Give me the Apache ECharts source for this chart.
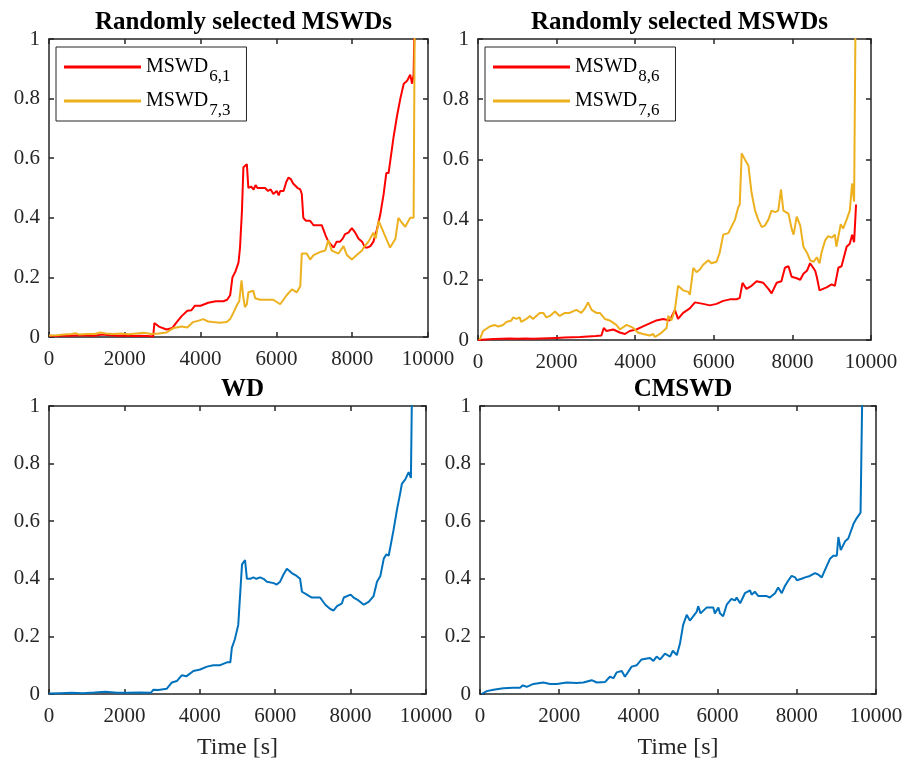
<!DOCTYPE html>
<html>
<head>
<meta charset="utf-8">
<script src="https://cdn.jsdelivr.net/npm/echarts@6/dist/echarts.min.js"></script>
<style>
  html, body { margin: 0; padding: 0; background: #fff; }
  #chart { width: 907px; height: 763px; }
</style>
</head>
<body>
<div id="chart"></div>
<script>
// Time [s] / normalised distance pairs for each curve
const mswd61 = [[0,0.004],[200,0.003],[400,0.005],[600,0.004],[800,0.006],[1000,0.005],[1200,0.004],[1400,0.008],[1600,0.006],[1800,0.004],[2000,0.005],[2200,0.003],[2400,0.004],[2600,0.003],[2750,0.002],[2780,0.047],[2900,0.035],[3100,0.025],[3250,0.030],[3370,0.050],[3500,0.070],[3650,0.088],[3760,0.090],[3850,0.105],[4000,0.105],[4200,0.115],[4400,0.12],[4600,0.12],[4700,0.125],[4780,0.14],[4840,0.20],[4920,0.22],[5000,0.25],[5040,0.30],[5090,0.42],[5130,0.57],[5220,0.58],[5260,0.50],[5330,0.505],[5400,0.495],[5450,0.51],[5500,0.50],[5600,0.50],[5700,0.50],[5780,0.49],[5850,0.495],[5920,0.48],[6010,0.49],[6060,0.475],[6100,0.49],[6190,0.49],[6260,0.52],[6320,0.535],[6380,0.53],[6440,0.515],[6490,0.51],[6560,0.50],[6630,0.495],[6670,0.48],[6710,0.40],[6780,0.39],[6890,0.39],[6980,0.375],[7100,0.375],[7200,0.375],[7240,0.36],[7300,0.34],[7370,0.32],[7440,0.31],[7510,0.30],[7560,0.30],[7590,0.32],[7640,0.315],[7680,0.32],[7750,0.33],[7810,0.345],[7900,0.35],[7990,0.365],[8080,0.35],[8170,0.33],[8260,0.32],[8340,0.30],[8400,0.30],[8480,0.305],[8560,0.32],[8650,0.36],[8740,0.41],[8830,0.48],[8900,0.55],[8960,0.55],[9000,0.55],[9090,0.67],[9180,0.74],[9270,0.80],[9360,0.85],[9400,0.85],[9450,0.86],[9490,0.87],[9530,0.88],[9580,0.85],[9620,0.88],[9680,1.3]];

const mswd73 = [[0,0.005],[200,0.006],[400,0.008],[600,0.01],[700,0.013],[800,0.008],[1000,0.01],[1200,0.01],[1350,0.015],[1500,0.012],[1700,0.01],[1900,0.012],[2100,0.009],[2300,0.012],[2500,0.014],[2700,0.01],[2900,0.012],[3100,0.015],[3280,0.03],[3400,0.033],[3500,0.035],[3650,0.032],[3800,0.05],[3950,0.055],[4070,0.06],[4200,0.052],[4330,0.05],[4500,0.048],[4690,0.05],[4780,0.06],[4860,0.08],[4970,0.11],[5020,0.12],[5080,0.19],[5130,0.13],[5170,0.10],[5220,0.11],[5260,0.15],[5390,0.155],[5440,0.13],[5570,0.125],[5750,0.125],[5920,0.125],[6100,0.11],[6270,0.14],[6410,0.16],[6540,0.15],[6630,0.17],[6670,0.28],[6800,0.28],[6890,0.26],[6980,0.275],[7150,0.285],[7290,0.29],[7370,0.325],[7460,0.29],[7640,0.28],[7770,0.305],[7860,0.275],[7990,0.26],[8120,0.275],[8260,0.29],[8300,0.30],[8430,0.32],[8560,0.35],[8620,0.33],[8700,0.39],[8830,0.35],[9000,0.30],[9140,0.33],[9220,0.40],[9300,0.385],[9400,0.37],[9530,0.40],[9620,0.40],[9660,1.3]];

const mswd86 = [[0,0.0],[200,0.002],[400,0.003],[600,0.004],[800,0.005],[1000,0.004],[1200,0.005],[1400,0.004],[1600,0.005],[1800,0.006],[2000,0.007],[2200,0.008],[2400,0.009],[2600,0.01],[2800,0.012],[3000,0.013],[3140,0.015],[3200,0.04],[3270,0.03],[3440,0.035],[3610,0.025],[3740,0.02],[3860,0.03],[4030,0.035],[4200,0.045],[4370,0.055],[4540,0.065],[4710,0.07],[4880,0.065],[5010,0.10],[5090,0.07],[5220,0.09],[5390,0.105],[5520,0.125],[5730,0.12],[5900,0.115],[6070,0.12],[6240,0.13],[6410,0.135],[6580,0.135],[6660,0.14],[6730,0.19],[6830,0.17],[6960,0.18],[7090,0.195],[7260,0.19],[7390,0.17],[7470,0.155],[7600,0.19],[7720,0.195],[7810,0.24],[7900,0.245],[7980,0.21],[8110,0.205],[8200,0.20],[8280,0.22],[8370,0.23],[8450,0.255],[8580,0.23],[8620,0.21],[8690,0.165],[8740,0.16],[8870,0.175],[9000,0.185],[9080,0.18],[9170,0.24],[9250,0.245],[9380,0.31],[9460,0.32],[9520,0.35],[9570,0.325],[9620,0.45]];

const mswd76 = [[40,0.0],[130,0.03],[300,0.045],[420,0.05],[510,0.045],[640,0.05],[720,0.06],[850,0.065],[890,0.075],[980,0.07],[1060,0.075],[1100,0.06],[1230,0.07],[1320,0.08],[1400,0.07],[1570,0.09],[1660,0.09],[1740,0.075],[1830,0.08],[1960,0.095],[2080,0.08],[2210,0.09],[2330,0.09],[2500,0.10],[2630,0.09],[2720,0.105],[2800,0.125],[2890,0.10],[3010,0.09],[3100,0.09],[3230,0.07],[3350,0.065],[3520,0.05],[3610,0.035],[3780,0.05],[3950,0.04],[4070,0.025],[4200,0.02],[4370,0.015],[4460,0.02],[4500,0.01],[4630,0.02],[4800,0.04],[4840,0.08],[4920,0.065],[5010,0.10],[5090,0.18],[5220,0.165],[5350,0.16],[5390,0.15],[5480,0.24],[5560,0.225],[5650,0.235],[5730,0.25],[5860,0.265],[5940,0.255],[6070,0.26],[6150,0.29],[6240,0.35],[6370,0.355],[6410,0.35],[6540,0.40],[6620,0.44],[6660,0.45],[6710,0.62],[6790,0.60],[6880,0.58],[6960,0.49],[7050,0.43],[7130,0.40],[7220,0.375],[7300,0.38],[7390,0.40],[7430,0.395],[7470,0.43],[7560,0.425],[7640,0.43],[7710,0.50],[7770,0.43],[7900,0.42],[7980,0.37],[8030,0.35],[8110,0.41],[8200,0.38],[8280,0.31],[8370,0.29],[8450,0.265],[8540,0.26],[8620,0.275],[8690,0.255],[8740,0.29],[8830,0.33],[8910,0.345],[9000,0.34],[9080,0.35],[9120,0.31],[9170,0.31],[9230,0.385],[9290,0.37],[9380,0.40],[9420,0.395],[9460,0.43],[9520,0.52],[9570,0.46],[9620,1.3]];

const wd = [[0,0.002],[300,0.003],[600,0.004],[900,0.003],[1200,0.005],[1500,0.008],[1800,0.004],[2100,0.004],[2400,0.005],[2700,0.004],[2770,0.015],[2900,0.014],[3120,0.018],[3260,0.04],[3390,0.045],[3520,0.065],[3650,0.062],[3830,0.08],[4010,0.085],[4190,0.095],[4360,0.10],[4540,0.10],[4720,0.11],[4810,0.11],[4850,0.16],[4930,0.19],[5020,0.24],[5120,0.45],[5200,0.465],[5250,0.40],[5340,0.40],[5420,0.405],[5500,0.40],[5600,0.405],[5690,0.40],[5780,0.39],[5960,0.385],[6040,0.38],[6130,0.39],[6220,0.415],[6310,0.435],[6440,0.42],[6570,0.41],[6660,0.40],[6710,0.355],[6840,0.345],[6970,0.335],[7190,0.335],[7330,0.31],[7460,0.295],[7550,0.29],[7640,0.305],[7770,0.315],[7820,0.335],[8000,0.345],[8080,0.335],[8210,0.325],[8350,0.31],[8480,0.32],[8610,0.34],[8700,0.39],[8790,0.41],[8880,0.47],[8950,0.485],[9010,0.48],[9140,0.57],[9230,0.64],[9320,0.70],[9360,0.73],[9450,0.745],[9540,0.77],[9600,0.75],[9650,1.3]];

const cmswd = [[40,0.0],[170,0.01],[340,0.015],[590,0.02],[840,0.022],[1010,0.022],[1080,0.03],[1180,0.025],[1350,0.035],[1600,0.04],[1770,0.035],[1940,0.035],[2190,0.04],[2440,0.038],[2610,0.04],[2820,0.048],[2950,0.04],[3160,0.042],[3280,0.06],[3370,0.055],[3450,0.075],[3580,0.08],[3660,0.06],[3830,0.095],[3960,0.10],[4080,0.12],[4290,0.125],[4380,0.115],[4460,0.13],[4550,0.12],[4670,0.14],[4800,0.13],[4870,0.15],[4970,0.135],[5050,0.175],[5130,0.24],[5220,0.275],[5300,0.255],[5470,0.285],[5510,0.305],[5570,0.28],[5720,0.30],[5890,0.30],[5930,0.28],[6020,0.30],[6060,0.28],[6140,0.27],[6230,0.31],[6350,0.33],[6440,0.325],[6480,0.335],[6570,0.315],[6690,0.35],[6820,0.36],[6860,0.345],[6940,0.355],[7030,0.34],[7240,0.34],[7320,0.335],[7450,0.35],[7530,0.37],[7620,0.35],[7700,0.375],[7790,0.395],[7870,0.41],[7960,0.405],[8000,0.395],[8120,0.40],[8210,0.405],[8330,0.41],[8460,0.42],[8540,0.415],[8630,0.405],[8710,0.43],[8840,0.47],[8920,0.48],[9010,0.48],[9050,0.545],[9110,0.50],[9220,0.53],[9300,0.54],[9430,0.59],[9510,0.61],[9610,0.63],[9680,1.3]];

const panelTitles = ['Randomly selected MSWDs', 'Randomly selected MSWDs', 'WD', 'CMSWD'];
const legendNames = [['MSWD6,1', 'MSWD7,3'], ['MSWD8,6', 'MSWD7,6']];
const subscripts = { 'MSWD6,1': '6,1', 'MSWD7,3': '7,3', 'MSWD8,6': '8,6', 'MSWD7,6': '7,6' };
const xLabel = 'Time [s]';

const RED = '#FF0000', ORANGE = '#EDB120', BLUE = '#0072BD';
const INK = '#262626';
const FONT = '"Liberation Serif", "Times New Roman", serif';

// plot boxes: left, top, width, height
const boxes = [
  [49, 39, 379, 298],
  [478, 39, 393, 301],
  [49, 406, 377, 288],
  [480, 406, 396, 288]
];

const grids = boxes.map(b => ({ left: b[0], top: b[1], width: b[2], height: b[3], containLabel: false }));

const axisLine = { show: true, onZero: false, lineStyle: { color: INK, width: 1.5 } };
const axisTick = { show: true, inside: true, length: 5, lineStyle: { color: INK, width: 1.5 } };

const xAxes = [], yAxes = [];
boxes.forEach((b, i) => {
  xAxes.push({
    type: 'value', gridIndex: i, min: 0, max: 10000, interval: 2000, position: 'bottom',
    axisLine, axisTick,
    axisLabel: { color: INK, fontFamily: FONT, fontSize: 21, margin: 12, formatter: v => String(v) },
    splitLine: { show: false },
    name: i >= 2 ? xLabel : '', nameLocation: 'middle', nameGap: 42,
    nameTextStyle: { color: INK, fontFamily: FONT, fontSize: 24 }
  });
  xAxes.push({
    type: 'value', gridIndex: i, min: 0, max: 10000, interval: 2000, position: 'top',
    axisLine, axisTick, axisLabel: { show: false }, splitLine: { show: false }
  });
  yAxes.push({
    type: 'value', gridIndex: i, min: 0, max: 1, interval: 0.2, position: 'left',
    axisLine, axisTick,
    axisLabel: { color: INK, fontFamily: FONT, fontSize: 21, margin: 9 },
    splitLine: { show: false }
  });
  yAxes.push({
    type: 'value', gridIndex: i, min: 0, max: 1, interval: 0.2, position: 'right',
    axisLine, axisTick, axisLabel: { show: false }, splitLine: { show: false }
  });
});

function line(name, data, panel, color) {
  return {
    name, type: 'line', data, xAxisIndex: panel * 2, yAxisIndex: panel * 2,
    symbol: 'none', showSymbol: false, clip: true, animation: false,
    lineStyle: { color, width: 2 }, itemStyle: { color }
  };
}

const series = [
  line('MSWD6,1', mswd61, 0, RED),
  line('MSWD7,3', mswd73, 0, ORANGE),
  line('MSWD8,6', mswd86, 1, RED),
  line('MSWD7,6', mswd76, 1, ORANGE),
  line('WD', wd, 2, BLUE),
  line('CMSWD', cmswd, 3, BLUE)
];

const titles = boxes.map((b, i) => ({
  text: panelTitles[i], left: b[0] + b[2] / 2, top: b[1] - 34, textAlign: 'center',
  textStyle: { color: '#000', fontFamily: FONT, fontSize: 25, fontWeight: 'bold' }
}));

const legends = legendNames.map((names, i) => ({
  data: names, orient: 'vertical', left: boxes[i][0] + 7, top: boxes[i][1] + 8,
  backgroundColor: '#fff', borderColor: INK, borderWidth: 1, padding: [8, 16, 2, 8],
  itemGap: 4, itemWidth: 77, itemHeight: 3, icon: 'rect',
  formatter: n => '{m|MSWD}{s|' + subscripts[n] + '}',
  textStyle: {
    color: '#000', fontFamily: FONT,
    rich: {
      m: { fontFamily: FONT, fontSize: 20, color: '#000', lineHeight: 24 },
      s: { fontFamily: FONT, fontSize: 17, color: '#000', lineHeight: 4, verticalAlign: 'top', padding: [13, 0, 0, 1] }
    }
  }
}));

const chart = echarts.init(document.getElementById('chart'), null, { renderer: 'canvas' });
chart.setOption({
  backgroundColor: '#fff',
  animation: false,
  title: titles,
  legend: legends,
  grid: grids,
  xAxis: xAxes,
  yAxis: yAxes,
  series
});
</script>
</body>
</html>
